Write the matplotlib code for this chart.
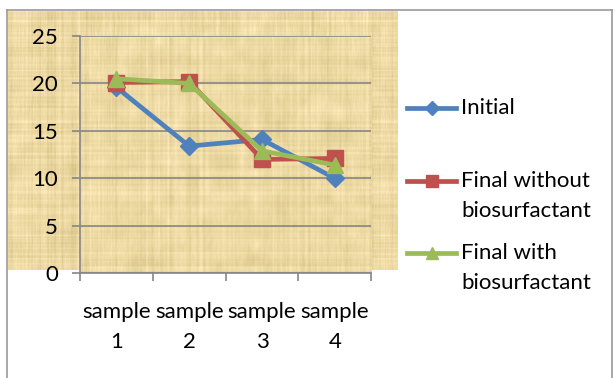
import numpy as np
import matplotlib
matplotlib.use("Agg")
import matplotlib.pyplot as plt
from matplotlib.lines import Line2D

plt.rcParams['font.family'] = ['Lato', 'DejaVu Sans']

# data
samples = ['sample\n1', 'sample\n2', 'sample\n3', 'sample\n4']
initial = [19.6, 13.4, 14.1, 10.0]
final_without = [20.1, 20.2, 12.0, 12.1]
final_with = [20.5, 20.0, 12.9, 11.4]

series_names = ['Initial', 'Final without\nbiosurfactant', 'Final with\nbiosurfactant']
colors = ['#4F81BD', '#C0504D', '#9BBB59']
markers = ['D', 's', '^']
msizes = [9, 11, 12]

W, H = 615, 378


def fx(px):
    return px / W


def fy(py):
    return 1 - py / H


def smooth(v, k):
    return np.convolve(v, np.ones(k) / k, mode='same')


def papyrus(h, w, seed):
    # parchment-like fill: fibre streaks in both directions plus soft blotches
    rng = np.random.default_rng(seed)
    base = np.array([237, 217, 163]) / 255.0
    rows = smooth(rng.normal(0, 1, h), 2)
    cols = smooth(rng.normal(0, 1, w), 2)
    fib = rng.normal(0, 1, (h, w))
    fib = np.apply_along_axis(smooth, 0, fib, 7)
    low = rng.normal(0, 1, (h // 12 + 2, w // 12 + 2))
    blot = np.kron(low, np.ones((12, 12)))[:h, :w]
    blot = np.apply_along_axis(smooth, 0, blot, 11)
    blot = np.apply_along_axis(smooth, 1, blot, 11)
    lum = 0.02 * rows[:, None] + 0.022 * cols[None, :] + 0.02 * fib + 0.015 * blot
    img = base[None, None, :] + lum[..., None] * np.array([1.0, 1.0, 1.3])
    return np.clip(img, 0, 1)


fig = plt.figure(figsize=(W / 100, H / 100), dpi=100)
fig.patch.set_facecolor('white')

# textured chart area
bg = fig.add_axes([fx(8), fy(270), fx(398) - fx(8), fy(11) - fy(270)])
bg.imshow(papyrus(259, 390, 3), aspect='auto', interpolation='bilinear')
bg.axis('off')

# outer frame
for xs, ys in [((7, 7), (10, H)), ((7, 612), (10, 10)), ((612, 612), (10, H))]:
    fig.add_artist(Line2D([fx(x) for x in xs], [fy(y) for y in ys],
                          color='#9a9a9a', lw=1.2))

ax = fig.add_axes([fx(80), fy(273.3), fx(371.3) - fx(80), fy(36) - fy(273.3)])
ax.patch.set_alpha(0)
ax.imshow(papyrus(237, 291, 11), aspect='auto', interpolation='bilinear',
          extent=(-0.5, 3.5, 0, 25), zorder=0)

x = np.arange(len(samples))
for vals, c, m, ms in zip([initial, final_without, final_with], colors, markers, msizes):
    ax.plot(x, vals, color=c, lw=3.4, marker=m, ms=ms, mec=c, mfc=c, zorder=3)

ax.set_xlim(-0.5, 3.5)
ax.set_ylim(0, 25)
ax.set_yticks(np.arange(0, 26, 5))
ax.grid(axis='y', color='#868686', lw=1.2)
ax.set_axisbelow(True)

ax.set_xticks(np.arange(-0.5, 4, 1))
ax.set_xticklabels([])
ax.set_xticks(x, minor=True)
ax.set_xticklabels(samples, minor=True, fontsize=16, linespacing=1.6)
ax.tick_params(axis='x', which='major', length=6, width=1.2, color='#868686', direction='out')
ax.tick_params(axis='x', which='minor', length=0, pad=21)
ax.tick_params(axis='y', length=6, width=1.2, color='#868686', labelsize=16, pad=10)

for s in ['top', 'right']:
    ax.spines[s].set_visible(False)
for s in ['left', 'bottom']:
    ax.spines[s].set_color('#868686')
    ax.spines[s].set_linewidth(1.2)

# legend drawn by hand so the handle sits on the first text line
leg_y = [108, 181, 253]
leg_ms = [7, 9, 9]
for name, c, m, ms, yy in zip(series_names, colors, markers, leg_ms, leg_y):
    fig.add_artist(Line2D([fx(407), fx(456)], [fy(yy), fy(yy)], color=c, lw=3.4))
    fig.add_artist(Line2D([fx(431.5)], [fy(yy)], color=c, marker=m, ms=ms, mec=c, mfc=c))
    for i, line in enumerate(name.split('\n')):
        fig.text(fx(461), fy(yy + 30 * i), line, fontsize=16, va='center', ha='left')

fig.savefig('out.png', dpi=100)
